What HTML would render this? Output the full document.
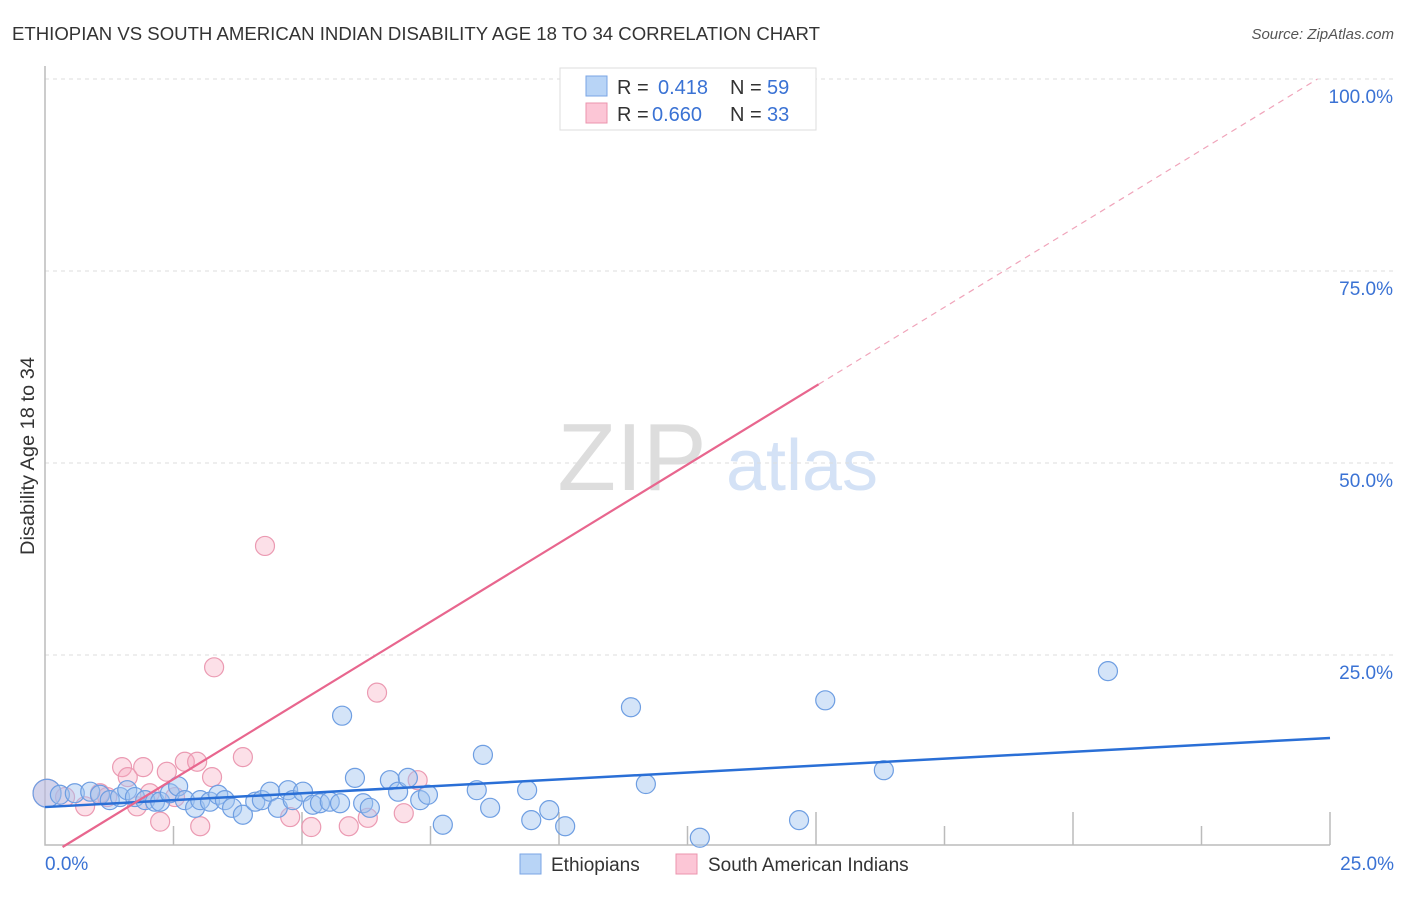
<!DOCTYPE html>
<html><head><meta charset="utf-8"><style>
body{margin:0;background:#fff;font-family:"Liberation Sans",sans-serif;}
svg text{font-family:"Liberation Sans",sans-serif;}
</style></head><body>
<svg id="chart" width="1406" height="892" xmlns="http://www.w3.org/2000/svg">
<text x="12" y="40" font-size="18" fill="#333" textLength="808" lengthAdjust="spacingAndGlyphs">ETHIOPIAN VS SOUTH AMERICAN INDIAN DISABILITY AGE 18 TO 34 CORRELATION CHART</text>
<text x="1394" y="39" font-size="15" fill="#555" text-anchor="end" font-style="italic">Source: ZipAtlas.com</text>
<g>
<text x="632" y="490" font-size="96" fill="#ddd" font-family="Liberation Serif" text-anchor="middle">ZIP</text>
<text x="802" y="490" font-size="72" fill="#d4e2f6" text-anchor="middle">atlas</text>
</g>
<g id="grid"></g>
<g id="axes"></g>
<g id="marks"></g>
<text transform="translate(34,456) rotate(-90)" font-size="19" fill="#333" text-anchor="middle" textLength="198" lengthAdjust="spacingAndGlyphs">Disability Age 18 to 34</text>
<g>
<rect x="560" y="68" width="256" height="62" fill="#fff" stroke="#ddd"/>
<rect x="586" y="76" width="21" height="20" fill="#b8d4f6" stroke="#7aa5e4"/>
<rect x="586" y="103" width="21" height="20" fill="#fcc6d6" stroke="#eb94ae"/>
<text x="617" y="94" font-size="20" fill="#333">R =</text>
<text x="658" y="94" font-size="20" fill="#3a72d4">0.418</text>
<text x="730" y="94" font-size="20" fill="#333">N =</text>
<text x="767" y="94" font-size="20" fill="#3a72d4">59</text>
<text x="617" y="121" font-size="20" fill="#333">R =</text>
<text x="652" y="121" font-size="20" fill="#3a72d4">0.660</text>
<text x="730" y="121" font-size="20" fill="#333">N =</text>
<text x="767" y="121" font-size="20" fill="#3a72d4">33</text>
</g>
<g>
<rect x="520" y="854" width="21" height="20" fill="#b8d4f6" stroke="#7aa5e4"/>
<text x="551" y="871" font-size="19" fill="#333">Ethiopians</text>
<rect x="676" y="854" width="21" height="20" fill="#fcc6d6" stroke="#eb94ae"/>
<text x="708" y="871" font-size="19" fill="#333">South American Indians</text>
</g>
</svg>
<script>
const blueX=[0.04,0.29,0.58,0.88,1.07,1.26,1.46,1.60,1.75,1.95,2.14,2.24,2.43,2.59,2.72,2.92,3.02,3.21,3.37,3.50,3.64,3.85,4.09,4.22,4.38,4.53,4.73,4.82,5.02,5.21,5.35,5.54,5.74,5.78,6.03,6.19,6.32,6.71,6.87,7.06,7.30,7.45,7.74,8.40,8.52,8.66,9.38,9.46,9.81,10.12,11.40,11.69,12.74,14.67,15.18,16.32,20.68];
const blueY=[7.0,6.8,7.0,7.2,6.8,6.1,6.5,7.4,6.5,6.1,5.9,5.9,7.0,7.9,6.1,5.1,6.1,5.9,6.8,6.1,5.1,4.2,5.9,6.1,7.2,5.1,7.4,6.1,7.2,5.5,5.7,5.9,5.7,17.1,9.0,5.7,5.1,8.7,7.2,9.0,6.1,6.8,2.9,7.4,12.0,5.1,7.4,3.5,4.8,2.7,18.2,8.2,1.2,3.5,19.1,10.0,22.9];
const pinkX=[0.04,0.39,0.78,1.07,1.21,1.50,1.61,1.79,1.91,2.04,2.24,2.37,2.53,2.72,2.96,3.02,3.25,3.29,3.85,4.28,4.77,5.18,5.91,6.28,6.46,6.98,7.25,13.72];
const pinkY=[7.0,6.5,5.3,7.0,6.5,10.4,9.1,5.3,10.4,7.0,3.3,9.8,6.5,11.1,11.1,2.7,9.1,23.4,11.7,39.2,3.9,2.6,2.7,3.8,20.1,4.4,8.7,99.9];
const blueTrend=[5.2,14.2];
const pinkTrend=[-1.4,101];
const yTicks=[25,50,75,100];
const xTickLabels=["0.0%","25.0%"];
const NS='http://www.w3.org/2000/svg';
const sx=v=>45+v*51.4, sy=v=>847-v*7.68;
function mk(parent,tag,attrs){const e=document.createElementNS(NS,tag);for(const k in attrs)e.setAttribute(k,attrs[k]);document.getElementById(parent).appendChild(e);return e;}
yTicks.forEach(t=>{
 const l=mk('grid','line',{x1:45,x2:1394,y1:sy(t),y2:sy(t),stroke:'#ddd','stroke-dasharray':'4,4'});
 
 
 const tx=mk('grid','text',{x:1393,y:sy(t)+24,'font-size':19,fill:'#3a72d4','text-anchor':'end'});
 tx.textContent=t.toFixed(1)+'%';
 
 
});
const ax=mk('axes','path',{d:'M45,66V845H1330',fill:'none',stroke:'#bbb','stroke-width':1.5});


for(let i=1;i<=10;i++){
 const t=mk('axes','line',{x1:sx(i*2.5),x2:sx(i*2.5),y1:i%2?826:812,y2:845,stroke:'#bbb','stroke-width':1.5});
 
 
}
[[0,'start',45],[25,'end',1394]].forEach((a,i)=>{
 const tx=mk('axes','text',{x:a[2],y:870,'font-size':19,fill:'#3a72d4','text-anchor':a[1]});
 tx.textContent=xTickLabels[i];
 
 
});
function pts(X,Y,fill,stroke,name){
 X.forEach((x,i)=>{
  const c=mk('marks','circle',{cx:sx(x),cy:sy(Y[i]),r:i===0?14:9.5,fill:fill,stroke:stroke,'stroke-width':1.2});
  
  
 });
}
pts(pinkX,pinkY,'rgba(245,165,190,0.35)','#eb9ab2','south-american-indian-point');
pts(blueX,blueY,'rgba(160,196,240,0.45)','#6e9ee2','ethiopian-point');
const bl=mk('marks','line',{x1:sx(0),y1:sy(blueTrend[0]),x2:sx(25),y2:sy(blueTrend[1]),stroke:'#2a6fd6','stroke-width':2.5});


const slope=(pinkTrend[1]-pinkTrend[0])/25;
const x0=-pinkTrend[0]/slope, xs=15.05, xe=(100-pinkTrend[0])/slope;
const pl=mk('marks','line',{x1:sx(x0),y1:sy(0),x2:sx(xs),y2:sy(pinkTrend[0]+slope*xs),stroke:'#e8668e','stroke-width':2.2});


const pd=mk('marks','line',{x1:sx(xs),y1:sy(pinkTrend[0]+slope*xs),x2:sx(xe),y2:sy(100),stroke:'#f0a4ba','stroke-width':1.2,'stroke-dasharray':'6,5'});


</script>
</body></html>
